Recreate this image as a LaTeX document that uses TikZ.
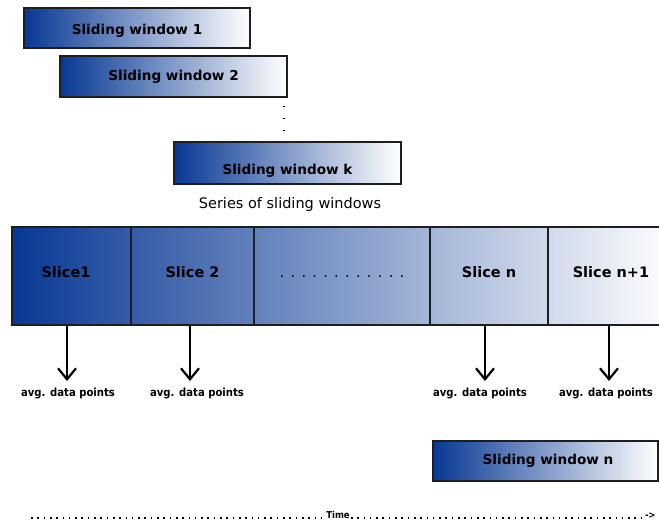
\documentclass[tikz,border=0pt]{standalone}
\usepackage{fontspec}
\setmainfont{DejaVu Sans}
\newfontfamily\condfont{DejaVu Sans Condensed}
\usetikzlibrary{arrows.meta}
\definecolor{wblue}{RGB}{8,56,148}
\definecolor{edge}{RGB}{30,30,30}
\newcommand\mydot{.\kern6.3pt}
\tikzset{
  win/.style={draw=edge, line width=1.6pt, left color=wblue, right color=white,
    inner sep=0pt, font=\bfseries\fontsize{13.6}{15}\selectfont},
  slicebox/.style={draw=edge, line width=1.6pt, inner sep=0pt, minimum height=98pt,
    text height=8pt, text depth=5.4pt,
    font=\bfseries\fontsize{14.5}{16}\selectfont},
  avg/.style={font=\condfont\bfseries\fontsize{11.2}{13}\selectfont, inner sep=0pt},
  arr/.style={line width=2.2pt, -{Straight Barb[length=11pt,width=18pt]}},
  dotline/.style={line width=1.7pt, dash pattern=on 1.6pt off 4.7pt},
  timef/.style={font=\condfont\bfseries\fontsize{9.5}{10}\selectfont, inner sep=1pt}
}
\begin{document}
\begin{tikzpicture}[x=1pt,y=-1pt]
\useasboundingbox (0,0) rectangle (659,525);
\clip (0,0) rectangle (659,525);
% sliding windows
\node[win, minimum width=226pt, minimum height=40pt, text height=16pt, text depth=3pt] (w1) at (137,28) {Sliding window 1};
\node[win, minimum width=227pt, minimum height=41pt] (w2) at (173.5,76.5) {Sliding window 2};
\node[win, minimum width=227pt, minimum height=42pt, text height=24pt, text depth=0.4pt] (wk) at (287.5,163) {Sliding window k};
\coordinate (d1) at (284,105.5);
\coordinate (d2) at (284,132);
\draw[line width=1.5pt, dash pattern=on 1.5pt off 10.5pt] (d1) -- (d2);
\node[font=\fontsize{14.5}{16}\selectfont, inner sep=0pt] (series) at (290,204) {Series of sliding windows};
% strip
\shade[left color=wblue, right color=white] (12,227) rectangle (674,325);
\node[slicebox, minimum width=119pt] (s1) at (71.5,276) {Slice1\kern11pt};
\node[slicebox, minimum width=123pt] (s2) at (192.5,276) {Slice 2};
\node[slicebox, minimum width=176pt] (s3) at (342,276) {\mdseries\mydot\mydot\mydot\mydot\mydot\mydot\mydot\mydot\mydot\mydot\mydot.};
\node[slicebox, minimum width=118pt] (s4) at (489,276) {Slice n};
\node[slicebox, minimum width=126pt] (s5) at (611,276) {Slice n+1};
% averaging arrows
\node[avg] (l1) at (68,393) {avg. data points};
\node[avg] (l2) at (197,393) {avg. data points};
\node[avg] (l4) at (480,393) {avg. data points};
\node[avg] (l5) at (606,393) {avg. data points};
\coordinate (h1) at (67,381);
\coordinate (h2) at (190,381);
\coordinate (h4) at (485,381);
\coordinate (h5) at (609,381);
\draw[arr] (s1.south -| h1) -- (h1);
\draw[arr] (s2.south -| h2) -- (h2);
\draw[arr] (s4.south -| h4) -- (h4);
\draw[arr] (s5.south -| h5) -- (h5);
% sliding window n
\node[win, minimum width=225pt, minimum height=40pt] (wn) at (545.5,461) {\hspace{5pt}Sliding window n};
% time line
\node[timef] (time) at (338,515) {Time};
\coordinate (tl) at (31,518);
\coordinate (tr) at (643,518);
\node[timef, anchor=west, inner sep=0pt] (tarrow) at (645,516) {-\kern-0.5pt\textgreater};
\draw[dotline] (tl) -- (time.west |- tl);
\draw[dotline] (time.east |- tl) -- (tr);
\end{tikzpicture}
\end{document}
